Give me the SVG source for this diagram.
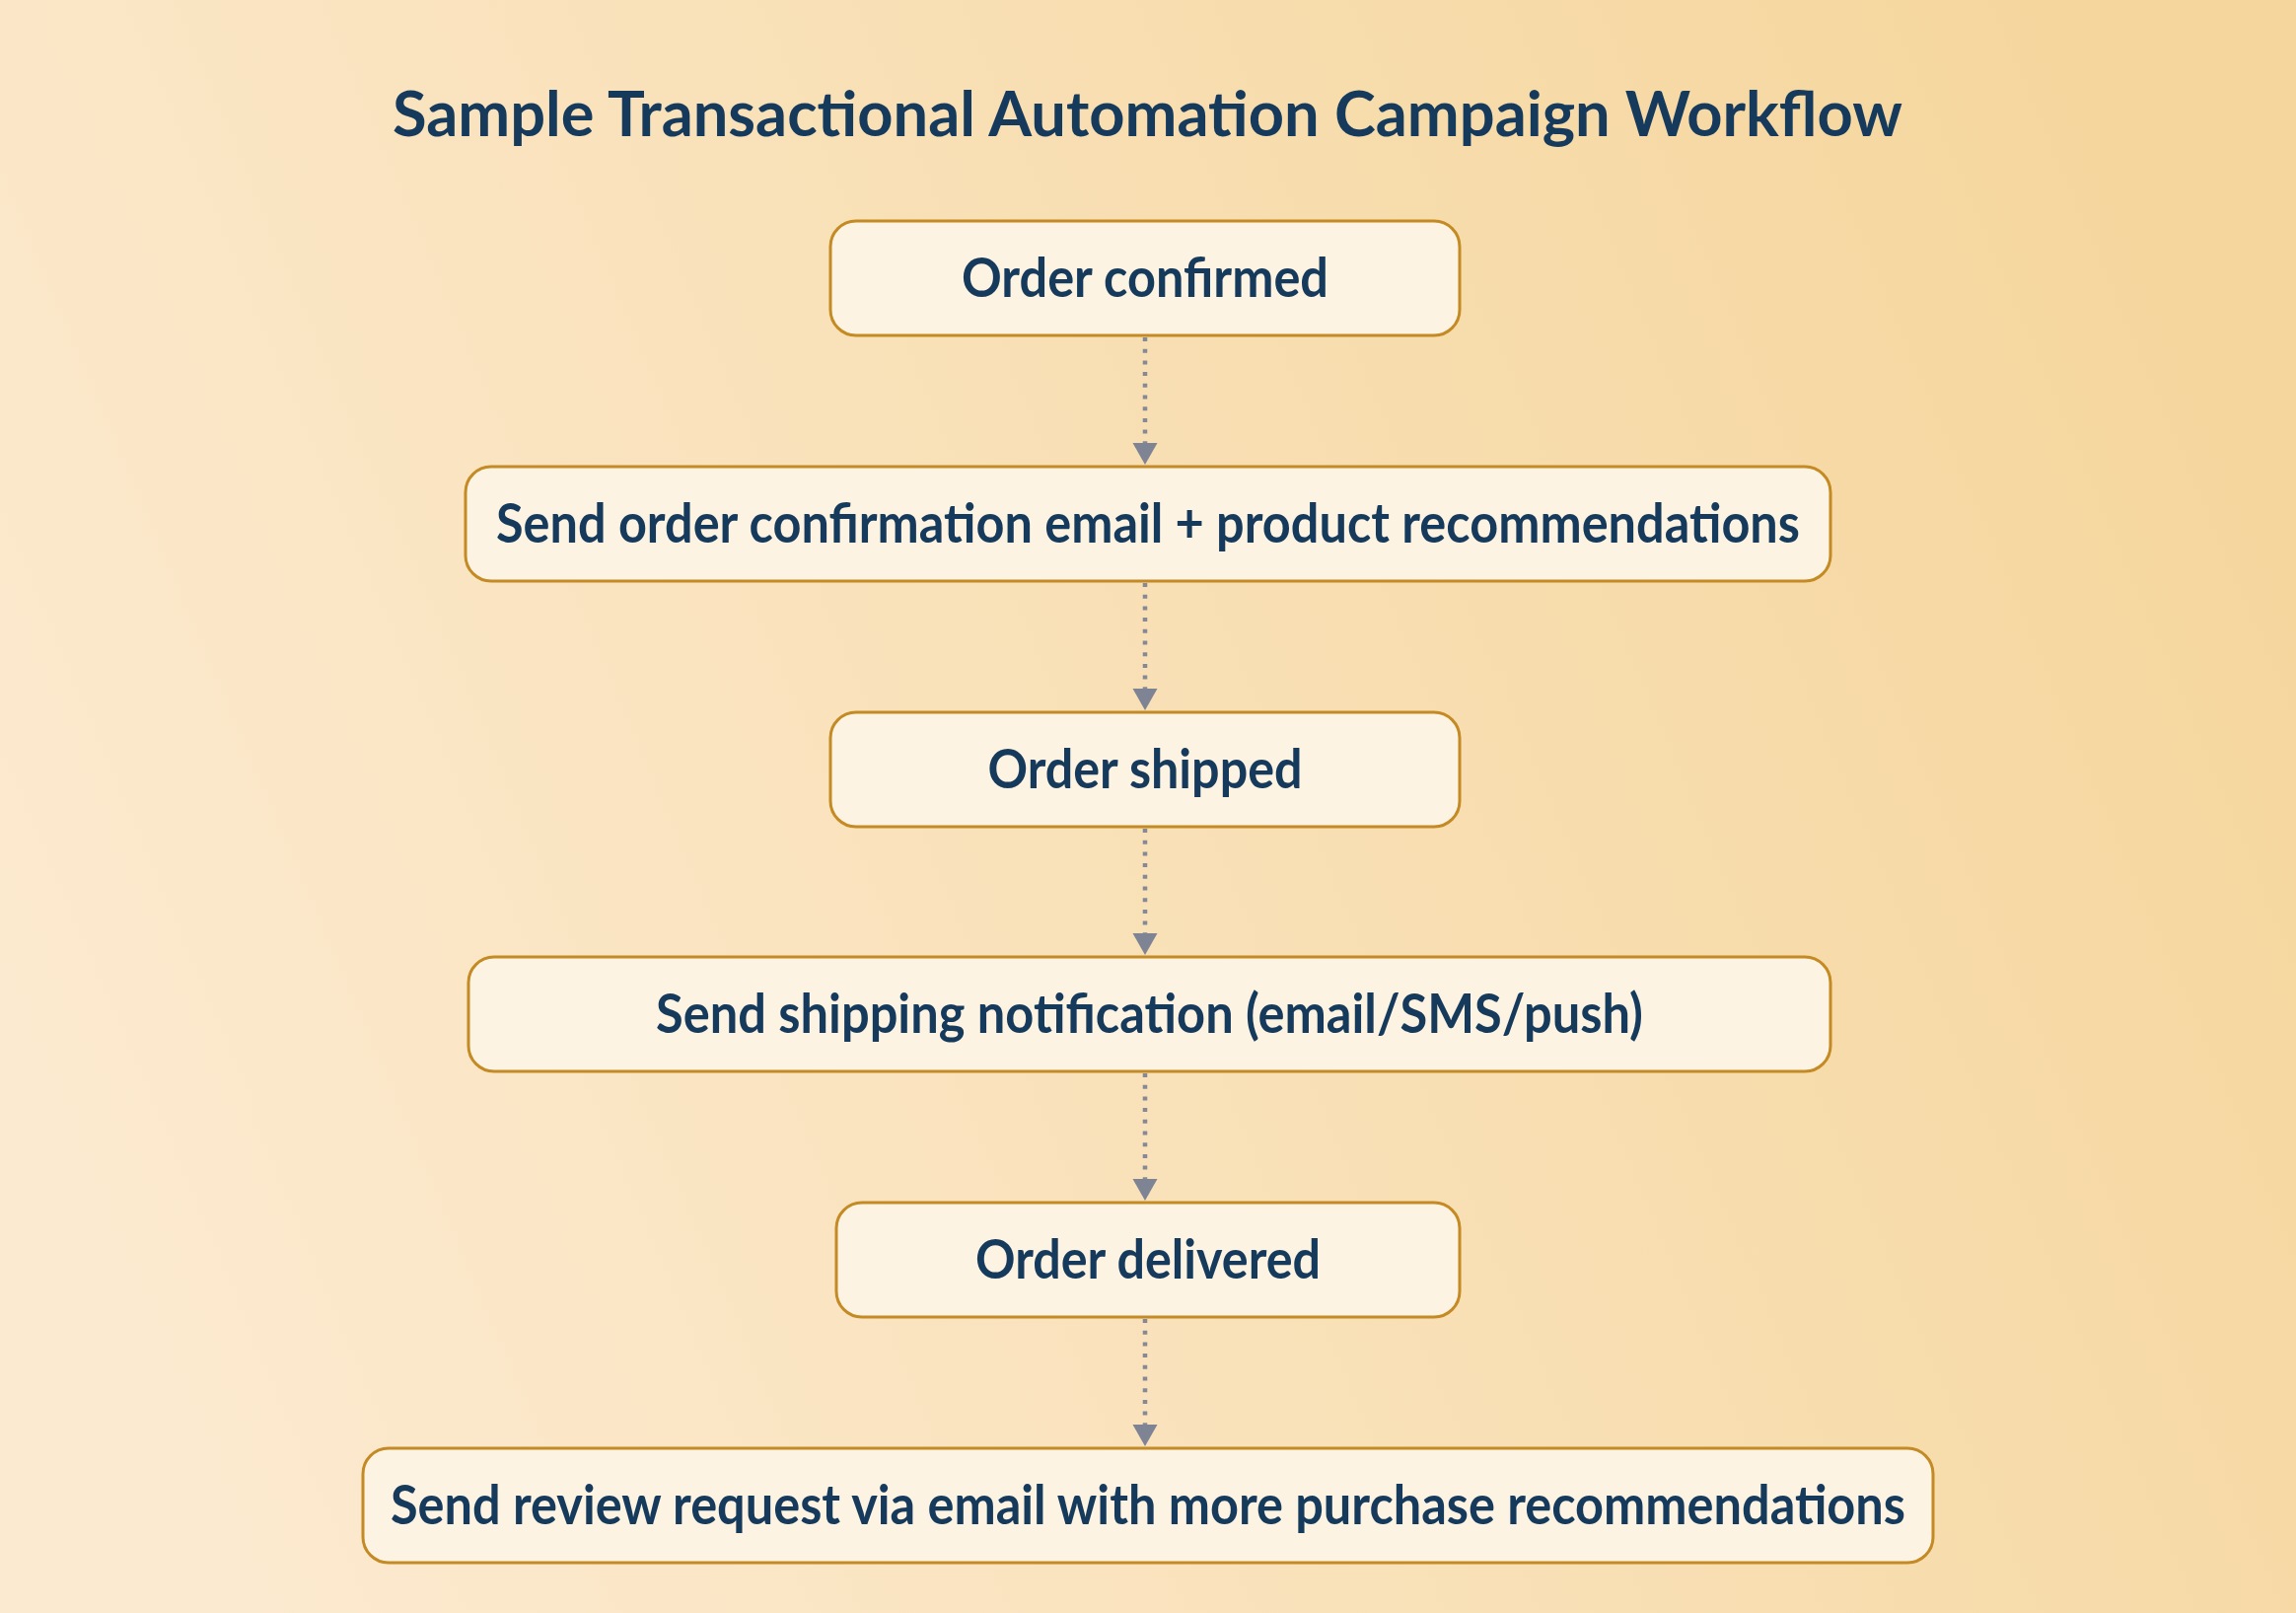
<svg xmlns="http://www.w3.org/2000/svg" width="2328" height="1635" viewBox="0 0 2328 1635">
<defs>
<linearGradient id="bg" x1="0" y1="0.65" x2="1" y2="0.35">
<stop offset="0" stop-color="#FCEAD0"/>
<stop offset="1" stop-color="#F5D69D"/>
</linearGradient>
<style>
.box{fill:#FDF3E2;stroke:#C48A24;stroke-width:3}
.lbl{font-family:Lato,"Noto Sans",sans-serif;font-weight:700;font-size:56px;fill:#163A5C;text-anchor:middle}
.title{font-family:Lato,"Noto Sans",sans-serif;font-weight:700;font-size:64px;fill:#163A5C;text-anchor:middle}
.con{stroke:#858996;stroke-width:4.5;stroke-dasharray:4 7.7;fill:none}
.head{fill:#7F8494}
</style>
</defs>
<rect x="0" y="0" width="2328" height="1635" fill="url(#bg)"/>
<text class="title" x="1163.5" y="138" textLength="1531" lengthAdjust="spacingAndGlyphs">Sample Transactional Automation Campaign Workflow</text>
<g id="connectors">
<line class="con" x1="1161" y1="342" x2="1161" y2="449"/>
<path class="head" d="M1148.5,449 L1173.5,449 L1161,471 Z"/>
<line class="con" x1="1161" y1="591" x2="1161" y2="698"/>
<path class="head" d="M1148.5,698 L1173.5,698 L1161,720 Z"/>
<line class="con" x1="1161" y1="840" x2="1161" y2="946"/>
<path class="head" d="M1148.5,946 L1173.5,946 L1161,968 Z"/>
<line class="con" x1="1161" y1="1088" x2="1161" y2="1195"/>
<path class="head" d="M1148.5,1195 L1173.5,1195 L1161,1217 Z"/>
<line class="con" x1="1161" y1="1337" x2="1161" y2="1444"/>
<path class="head" d="M1148.5,1444 L1173.5,1444 L1161,1466 Z"/>
</g>
<g id="n1">
<rect class="box" x="842" y="224" width="638" height="116" rx="26"/>
<text class="lbl" x="1161" y="301" textLength="372" lengthAdjust="spacingAndGlyphs">Order confirmed</text>
</g>
<g id="n2">
<rect class="box" x="472" y="473" width="1384" height="116" rx="26"/>
<text class="lbl" x="1164" y="550" textLength="1322" lengthAdjust="spacingAndGlyphs">Send order confirmation email + product recommendations</text>
</g>
<g id="n3">
<rect class="box" x="842" y="722" width="638" height="116" rx="26"/>
<text class="lbl" x="1161" y="799" textLength="319" lengthAdjust="spacingAndGlyphs">Order shipped</text>
</g>
<g id="n4">
<rect class="box" x="475" y="970" width="1381" height="116" rx="26"/>
<text class="lbl" x="1165.5" y="1047" textLength="1001" lengthAdjust="spacingAndGlyphs">Send shipping notification (email/SMS/push)</text>
</g>
<g id="n5">
<rect class="box" x="848" y="1219" width="632" height="116" rx="26"/>
<text class="lbl" x="1164" y="1296" textLength="350" lengthAdjust="spacingAndGlyphs">Order delivered</text>
</g>
<g id="n6">
<rect class="box" x="368" y="1468" width="1592" height="116" rx="26"/>
<text class="lbl" x="1164" y="1545" textLength="1536" lengthAdjust="spacingAndGlyphs">Send review request via email with more purchase recommendations</text>
</g>
</svg>
